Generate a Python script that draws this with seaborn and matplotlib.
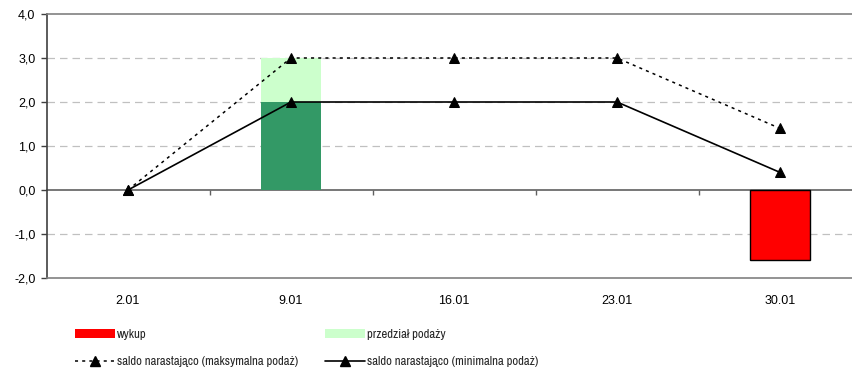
import numpy as np
import pandas as pd
import matplotlib
matplotlib.use("Agg")
import matplotlib.pyplot as plt
import seaborn as sns
from matplotlib.patches import Patch
from matplotlib.lines import Line2D
from matplotlib.ticker import FuncFormatter, FixedLocator
from matplotlib.font_manager import FontProperties

# Data
dates = ["2.01", "9.01", "16.01", "23.01", "30.01"]
wykup = [np.nan, np.nan, np.nan, np.nan, -1.6]
podaz_min = [np.nan, 2.0, np.nan, np.nan, np.nan]
podaz_max = [np.nan, 3.0, np.nan, np.nan, np.nan]
saldo_max = [0.0, 3.0, 3.0, 3.0, 1.4]
saldo_min = [0.0, 2.0, 2.0, 2.0, 0.4]

sns.set_theme(style="white")
plt.rcParams["font.family"] = ["Liberation Sans", "DejaVu Sans"]
TICK_FS = 9
LEG_FS = 9.2
DOTTED = (0, (2, 2.7))

fig = plt.figure(figsize=(8.52, 3.72), dpi=100)
W, H = 852, 372
ax = fig.add_axes([46.5 / W, 94 / H, 815 / W, 264 / H])

df = pd.DataFrame({"data": dates, "wykup": wykup, "pmin": podaz_min,
                   "pmax": podaz_max})
bw = 0.37
sns.barplot(data=df, x="data", y="pmax", order=dates, color="#CCFFCC",
            saturation=1, width=bw, ax=ax, linewidth=0, zorder=2)
sns.barplot(data=df, x="data", y="pmin", order=dates, color="#339966",
            saturation=1, width=bw, ax=ax, linewidth=0, zorder=2)
sns.barplot(data=df, x="data", y="wykup", order=dates, color="#FF0000",
            saturation=1, width=bw, ax=ax, edgecolor="black", linewidth=1.0,
            zorder=2)

pos = np.arange(len(dates))
sns.lineplot(x=pos, y=saldo_max, ax=ax, color="black", lw=1.1,
             linestyle=DOTTED, marker="^", markersize=7,
             markeredgecolor="black", markerfacecolor="black", zorder=5)
sns.lineplot(x=pos, y=saldo_min, ax=ax, color="black", lw=1.2,
             marker="^", markersize=7, markeredgecolor="black",
             markerfacecolor="black", zorder=5)

ax.set_xlim(-0.5, 4.5)
ax.set_ylim(-2, 4)
ax.set_xlabel("")
ax.set_ylabel("")

# Gridlines
for v in [-1, 1, 2, 3]:
    ax.axhline(v, color="#c0c0c0", lw=0.9, ls=(0, (6, 4)), zorder=1)

# Spines
for s in ["top", "bottom"]:
    ax.spines[s].set_color("#808080")
    ax.spines[s].set_linewidth(1.2)
ax.spines["right"].set_visible(False)
ax.spines["left"].set_color("#404040")
ax.spines["left"].set_linewidth(1.2)

ax.set_yticks(np.arange(-2, 5, 1))
ax.yaxis.set_major_formatter(FuncFormatter(lambda v, p: f"{v:.1f}".replace(".", ",")))
ax.tick_params(axis="y", direction="out", length=4.5, width=1, color="#404040",
               labelsize=TICK_FS, pad=3.5, left=True)
ax.tick_params(axis="x", length=0, labelsize=TICK_FS, pad=12)
for lab in ax.get_yticklabels() + ax.get_xticklabels():
    lab.set_color("black")

# Category axis line at zero
sec = ax.secondary_xaxis(1 / 3)
sec.xaxis.set_major_locator(FixedLocator(np.arange(0.5, 4.5, 1)))
sec.tick_params(direction="out", length=3.5, width=1, color="#606060",
                labelbottom=False, labeltop=False, bottom=True, top=False)
sec.spines["bottom"].set_color("#606060")
sec.spines["bottom"].set_linewidth(1.2)
sec.spines["top"].set_visible(False)
sec.set_xticklabels([])

handles = [
    Patch(facecolor="#FF0000", edgecolor="none", label="wykup"),
    Line2D([0], [0], color="black", lw=1.1, ls=DOTTED, marker="^",
           markersize=7, label="saldo narastająco (maksymalna podaż)"),
    Patch(facecolor="#CCFFCC", edgecolor="none", label="przedział podaży"),
    Line2D([0], [0], color="black", lw=1.2, marker="^", markersize=7,
           label="saldo narastająco (minimalna podaż)"),
]
leg_font = FontProperties(family=["Archivo Narrow", "Liberation Sans", "DejaVu Sans"],
                          size=LEG_FS)
fig.legend(handles=handles, ncol=2, loc="upper left",
           bbox_to_anchor=(75 / W, 1 - 328.5 / H), frameon=False,
           prop=leg_font, handlelength=3.1, handletextpad=0.2,
           handleheight=0.75, columnspacing=2.1, labelspacing=1.3,
           borderpad=0, borderaxespad=0)

fig.savefig("out.png", dpi=100)
